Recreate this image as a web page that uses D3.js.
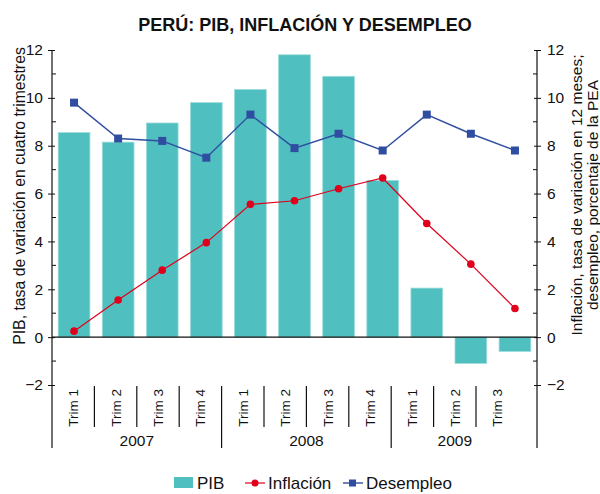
<!DOCTYPE html>
<html>
<head>
<meta charset="utf-8">
<script src="https://cdn.jsdelivr.net/npm/d3@7"></script>
<style>
body { margin: 0; background: #fff; }
text { font-family: "Liberation Sans", Arial, Helvetica, sans-serif; fill: #111; }
</style>
</head>
<body>
<div id="chart"></div>
<script>
// datos
var years = ["2007", "2008", "2009"];
var trims = ["Trim 1", "Trim 2", "Trim 3", "Trim 4", "Trim 1", "Trim 2", "Trim 3", "Trim 4", "Trim 1", "Trim 2", "Trim 3"];
var trimYear = [0, 0, 0, 0, 1, 1, 1, 1, 2, 2, 2];
var pib = [8.55, 8.15, 8.95, 9.8, 10.35, 11.8, 10.9, 6.55, 2.05, -1.1, -0.6];
var inflacion = [0.25, 1.55, 2.8, 3.95, 5.55, 5.7, 6.2, 6.65, 4.75, 3.05, 1.2];
var desempleo = [9.8, 8.3, 8.2, 7.5, 9.3, 7.9, 8.5, 7.8, 9.3, 8.5, 7.8];
var majorTicks = [-2, 0, 2, 4, 6, 8, 10, 12];
var minorTicks = [-1, 1, 3, 5, 7, 9, 11];

var width = 600, height = 494;
var mLeft = 52, mRight = 537, mTop = 50, mBottom = 385;

var svg = d3.select("#chart")
    .append("svg")
        .attr("width", width)
        .attr("height", height);

var idx = d3.range(pib.length);

var x = d3.scaleBand()
    .domain(idx)
    .range([mLeft, mRight])
    .paddingInner(0.28)
    .paddingOuter(0.14);

// the category labels sit on a slightly narrower band than the bars
var xl = d3.scaleBand()
    .domain(idx)
    .range([mLeft, 518.4]);

var y = d3.scaleLinear()
    .domain([-2, 12])
    .range([mBottom, mTop]);

// title
svg.append("text")
    .attr("x", 305)
    .attr("y", 31)
    .attr("text-anchor", "middle")
    .style("font-size", "18px")
    .style("font-weight", "bold")
    .text("PERÚ: PIB, INFLACIÓN Y DESEMPLEO");

// bars
svg.selectAll("rect.bar")
    .data(idx)
    .enter()
    .append("rect")
    .attr("class", "bar")
    .attr("x", function(i) { return x(i); })
    .attr("y", function(i) { return y(Math.max(0, pib[i])); })
    .attr("width", x.bandwidth())
    .attr("height", function(i) { return Math.abs(y(pib[i]) - y(0)); })
    .attr("fill", "#4fbfbf")
    .attr("stroke", "#9edcdc")
    .attr("stroke-width", 0.8);

// zero line
svg.append("line")
    .attr("x1", mLeft).attr("x2", mRight)
    .attr("y1", y(0)).attr("y2", y(0))
    .attr("stroke", "#111").attr("stroke-width", 1.2);

// left axis
var yAxisL = svg.append("g")
    .attr("transform", "translate(" + mLeft + ",0)")
    .call(d3.axisLeft(y).tickValues(majorTicks).tickSizeInner(4).tickSizeOuter(0).tickPadding(5));
yAxisL.select(".domain").remove();
yAxisL.selectAll("line").attr("x1", 3).attr("x2", -4).attr("stroke", "#111");
yAxisL.selectAll("text").style("font-size", "15.5px").style("font-family", "Liberation Sans, Arial, sans-serif");

svg.append("g").selectAll("line")
    .data(minorTicks)
    .enter()
    .append("line")
    .attr("x1", mLeft).attr("x2", mLeft + 4)
    .attr("y1", function(d) { return y(d); })
    .attr("y2", function(d) { return y(d); })
    .attr("stroke", "#111");

// right axis
var yAxisR = svg.append("g")
    .attr("transform", "translate(" + mRight + ",0)")
    .call(d3.axisRight(y).tickValues(majorTicks).tickSizeInner(4).tickSizeOuter(0).tickPadding(6));
yAxisR.select(".domain").remove();
yAxisR.selectAll("line").attr("x1", -3).attr("x2", 4).attr("stroke", "#111");
yAxisR.selectAll("text").style("font-size", "15.5px").style("font-family", "Liberation Sans, Arial, sans-serif");

svg.append("g").selectAll("line")
    .data(minorTicks)
    .enter()
    .append("line")
    .attr("x1", mRight - 4).attr("x2", mRight)
    .attr("y1", function(d) { return y(d); })
    .attr("y2", function(d) { return y(d); })
    .attr("stroke", "#111");

// axis lines, running down past the category labels
[mLeft, mRight].forEach(function(px) {
    svg.append("line")
        .attr("x1", px).attr("x2", px)
        .attr("y1", mTop).attr("y2", 448)
        .attr("stroke", "#111").attr("stroke-width", 1.2);
});

// category labels
svg.selectAll("text.trim")
    .data(idx)
    .enter()
    .append("text")
    .attr("class", "trim")
    .attr("transform", function(i) { return "translate(" + (xl(i) + xl.bandwidth() / 2 + 5) + ",389) rotate(-90)"; })
    .attr("text-anchor", "end")
    .style("font-size", "13.5px")
    .text(function(i) { return trims[i]; });

// separators between quarters and years
idx.slice(1).forEach(function(i) {
    var newYear = trimYear[i] !== trimYear[i - 1];
    svg.append("line")
        .attr("x1", xl(i)).attr("x2", xl(i))
        .attr("y1", 386).attr("y2", newYear ? 448 : 427)
        .attr("stroke", "#111").attr("stroke-width", 1.2);
});

// year labels
years.forEach(function(yr, k) {
    var members = idx.filter(function(i) { return trimYear[i] === k; });
    var x0 = xl(members[0]), x1 = xl(members[members.length - 1]) + xl.bandwidth();
    svg.append("text")
        .attr("x", (x0 + x1) / 2)
        .attr("y", 446)
        .attr("text-anchor", "middle")
        .style("font-size", "15.5px")
        .text(yr);
});

// lines
var cx = function(i) { return x(i) + x.bandwidth() / 2; };

var lineInf = d3.line()
    .x(function(i) { return cx(i); })
    .y(function(i) { return y(inflacion[i]); });
var lineDes = d3.line()
    .x(function(i) { return cx(i); })
    .y(function(i) { return y(desempleo[i]); });

svg.append("path")
    .attr("d", lineInf(idx))
    .attr("fill", "none")
    .attr("stroke", "#e0001b")
    .attr("stroke-width", 1.2);
svg.selectAll("circle.inf")
    .data(idx)
    .enter()
    .append("circle")
    .attr("class", "inf")
    .attr("cx", cx)
    .attr("cy", function(i) { return y(inflacion[i]); })
    .attr("r", 3.8)
    .attr("fill", "#e0001b");

svg.append("path")
    .attr("d", lineDes(idx))
    .attr("fill", "none")
    .attr("stroke", "#2f4ea1")
    .attr("stroke-width", 1.4);
svg.selectAll("rect.des")
    .data(idx)
    .enter()
    .append("rect")
    .attr("class", "des")
    .attr("x", function(i) { return cx(i) - 4; })
    .attr("y", function(i) { return y(desempleo[i]) - 4; })
    .attr("width", 8)
    .attr("height", 8)
    .attr("fill", "#2f4ea1");

// axis titles
svg.append("text")
    .attr("transform", "translate(25," + 196 + ") rotate(-90)")
    .attr("text-anchor", "middle")
    .style("font-size", "15.8px")
    .text("PIB, tasa de variación en cuatro trimestres");

var rt = svg.append("text")
    .attr("transform", "translate(582," + 195 + ") rotate(-90)")
    .attr("text-anchor", "middle")
    .style("font-size", "15.5px");
rt.append("tspan").attr("x", 0).attr("dy", 0).text("Inflación, tasa de variación en 12 meses;");
rt.append("tspan").attr("x", 0).attr("dy", 16).text("desempleo, porcentaje de la PEA");

// legend
var lg = svg.append("g").attr("transform", "translate(0,483)");
lg.append("rect").attr("x", 174).attr("y", -6).attr("width", 19).attr("height", 11).attr("fill", "#4fbfbf");
lg.append("text").attr("x", 197).attr("y", 6).style("font-size", "17px").text("PIB");
lg.append("line").attr("x1", 245).attr("x2", 265).attr("y1", 0).attr("y2", 0).attr("stroke", "#e0001b").attr("stroke-width", 1.2);
lg.append("circle").attr("cx", 255).attr("cy", 0).attr("r", 3.5).attr("fill", "#e0001b");
lg.append("text").attr("x", 268).attr("y", 6).style("font-size", "17px").text("Inflación");
lg.append("line").attr("x1", 343).attr("x2", 363).attr("y1", 0).attr("y2", 0).attr("stroke", "#2f4ea1").attr("stroke-width", 1.4);
lg.append("rect").attr("x", 349).attr("y", -3.5).attr("width", 7).attr("height", 7).attr("fill", "#2f4ea1");
lg.append("text").attr("x", 366).attr("y", 6).style("font-size", "17px").text("Desempleo");
</script>
</body>
</html>
